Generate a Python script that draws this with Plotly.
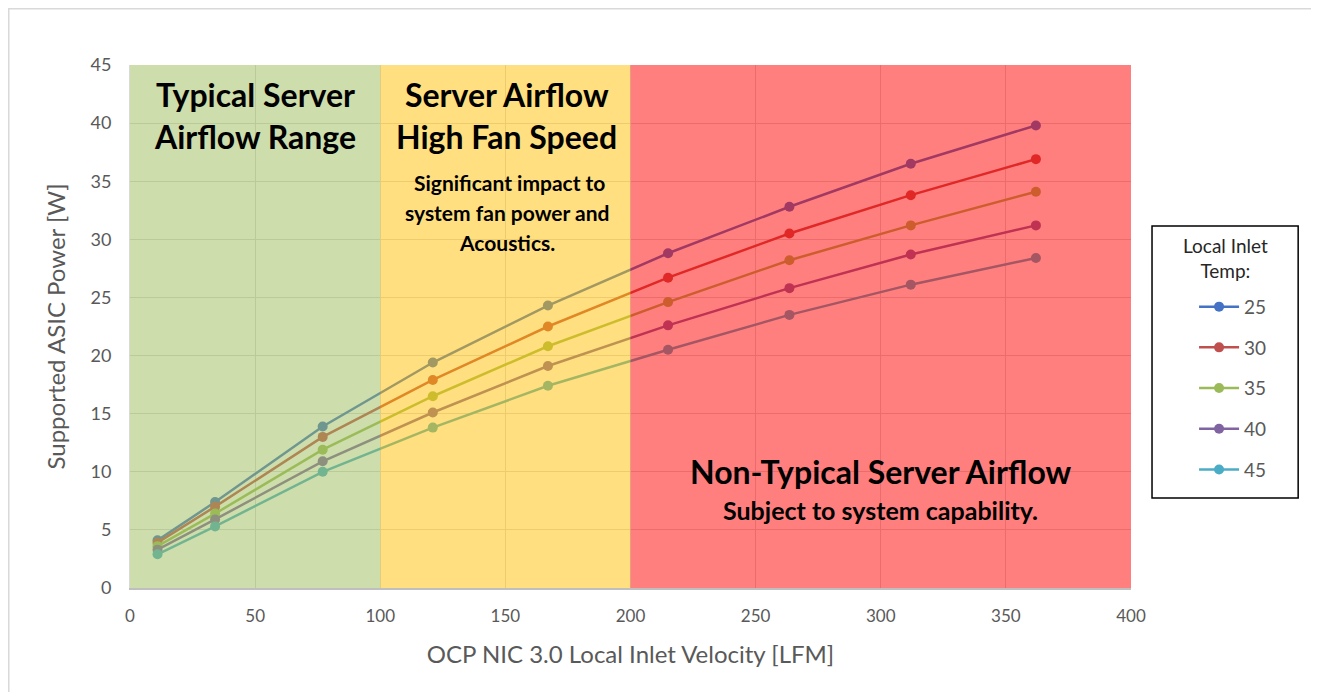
import plotly.graph_objects as go

# OCP NIC 3.0 supported ASIC power vs local inlet velocity
velocity = [11, 34, 77, 121, 167, 215, 263.5, 312, 362]
temps = ["25", "30", "35", "40", "45"]
power = {
    "25": [4.1, 7.4, 13.9, 19.4, 24.3, 28.8, 32.8, 36.5, 39.8],
    "30": [3.9, 7.0, 13.0, 17.9, 22.5, 26.7, 30.5, 33.8, 36.9],
    "35": [3.6, 6.4, 11.9, 16.5, 20.8, 24.6, 28.2, 31.2, 34.1],
    "40": [3.3, 5.9, 10.9, 15.1, 19.1, 22.6, 25.8, 28.7, 31.2],
    "45": [2.9, 5.3, 10.0, 13.8, 17.4, 20.5, 23.5, 26.1, 28.4],
}
colors = {"25": "#4472C4", "30": "#C0504D", "35": "#9BBB59", "40": "#8064A2", "45": "#4BACC6"}

# zones: (x0, x1, colour)
zones = [(0, 100, "rgba(155,187,89,0.5)"),
         (100, 200, "rgba(255,192,0,0.5)"),
         (200, 400, "rgba(255,0,0,0.5)")]

FONT = "Lato"

fig = go.Figure()
for t in temps:
    fig.add_trace(go.Scatter(
        x=velocity, y=power[t], name=t, legendgroup=t,
        mode="lines+markers",
        line=dict(color=colors[t], width=2.5),
        marker=dict(color=colors[t], size=10),
    ))

shapes = []
for x0, x1, c in zones:
    shapes.append(dict(type="rect", xref="x", yref="y", x0=x0, x1=x1, y0=0, y1=45,
                       fillcolor=c, line=dict(width=0), layer="above"))
# legend box
shapes.append(dict(type="rect", xref="paper", yref="paper", x0=1.021, x1=1.167, y0=0.172, y1=0.692,
                   line=dict(color="black", width=1.5), fillcolor="rgba(0,0,0,0)"))
# outer chart border
shapes.append(dict(type="rect", xref="paper", yref="paper", x0=-0.1211, x1=1.1848, y0=-0.214, y1=1.1075,
                   line=dict(color="#D9D9D9", width=1.5), fillcolor="rgba(0,0,0,0)"))

big = dict(family=FONT, size=32, color="black")
small = dict(family=FONT, size=21, color="black")
notes = [
    ("Typical Server", 50, 42.43, big),
    ("Airflow Range", 50, 38.81, big),
    ("Server Airflow", 150.6, 42.43, big),
    ("High Fan Speed", 150.6, 38.81, big),
    ("Significant impact to", 151.8, 34.85, small),
    ("system fan power and", 150.5, 32.3, small),
    ("Acoustics.", 150.5, 29.72, small),
    ("Non-Typical Server Airflow", 300, 10.0, big),
    ("Subject to system capability.", 300, 6.75, dict(family=FONT, size=25, color="black")),
]
annotations = [dict(text="<b>%s</b>" % s, x=x, y=y, xref="x", yref="y", showarrow=False,
                    font=f, xanchor="center", yanchor="middle") for s, x, y, f in notes]
annotations.append(dict(text="Local Inlet<br>Temp:", xref="paper", yref="paper", x=1.094, y=0.631,
                        showarrow=False, font=dict(family=FONT, size=19, color="#262626"),
                        xanchor="center", yanchor="middle"))

fig.update_layout(
    width=1311, height=684,
    margin=dict(l=122, r=188, t=57, b=104),
    paper_bgcolor="white", plot_bgcolor="white",
    font=dict(family=FONT, color="#595959"),
    shapes=shapes, annotations=annotations,
    showlegend=True,
    legend=dict(x=1.063, xanchor="left", y=0.574, yanchor="top",
                font=dict(family=FONT, size=19, color="#595959"),
                itemwidth=40, tracegroupgap=13, bgcolor="rgba(0,0,0,0)", borderwidth=0),
    xaxis=dict(range=[0, 400], dtick=50, showgrid=True, gridcolor="#D9D9D9", gridwidth=1,
               showline=True, linecolor="#BFBFBF", linewidth=1.5, zeroline=False,
               ticks="", ticklabelstandoff=12, tickfont=dict(family=FONT, size=17, color="#595959"),
               title=dict(text="OCP NIC 3.0 Local Inlet Velocity [LFM]", standoff=21,
                          font=dict(family=FONT, size=24, color="#595959"))),
    yaxis=dict(range=[0, 45], dtick=5, showgrid=True, gridcolor="#D9D9D9", gridwidth=1,
               showline=True, linecolor="#D9D9D9", linewidth=1, zeroline=False,
               ticks="", ticklabelstandoff=14, tickfont=dict(family=FONT, size=18, color="#595959"),
               title=dict(text="Supported ASIC Power [W]", standoff=18,
                          font=dict(family=FONT, size=24, color="#595959"))),
)

fig.write_html("out.html")
